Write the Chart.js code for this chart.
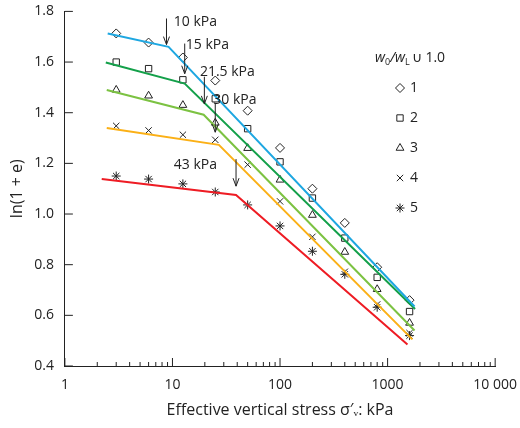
<!DOCTYPE html>
<html><head><meta charset="utf-8">
<script src="https://cdn.jsdelivr.net/npm/chart.js@4/dist/chart.umd.min.js"></script>
<style>body{margin:0;background:#fff}#wrap{width:520px;height:428px}</style>
</head><body><div id="wrap"><canvas id="c"></canvas></div>
<script>
const stress = [3, 6, 12.5, 25, 50, 100, 200, 400, 800, 1600];
const s1 = [1.713, 1.677, 1.618, 1.527, 1.408, 1.261, 1.10, 0.965, 0.79, 0.66];
const s2 = [1.60, 1.574, 1.53, 1.455, 1.337, 1.206, 1.063, 0.905, 0.75, 0.615];
const s3 = [1.49, 1.467, 1.43, 1.36, 1.26, 1.135, 0.996, 0.85, 0.703, 0.57];
const s4 = [1.348, 1.33, 1.313, 1.293, 1.195, 1.05, 0.91, 0.772, 0.643, 0.53];
const s5 = [1.15, 1.138, 1.119, 1.087, 1.036, 0.953, 0.853, 0.762, 0.632, 0.52];
const markers = ['rectRot', 'rect', 'triangle', 'crossRot', 'star'];
const seriesNames = ['1', '2', '3', '4', '5'];

// fitted bilinear lines: [x, y] start, knee, end
const fitBlue = [[2.5, 1.713], [9.2, 1.66], [1780, 0.635]];
const fitGreen = [[2.4, 1.598], [13, 1.515], [1800, 0.625]];
const fitLight = [[2.45, 1.49], [19.5, 1.392], [1780, 0.54]];
const fitOrange = [[2.45, 1.34], [27, 1.273], [1700, 0.505]];
const fitRed = [[2.2, 1.138], [39, 1.075], [1530, 0.485]];
const fitColors = ['#1ea7e1', '#14a04a', '#7cc242', '#fbb016', '#ee1c24'];

// yield stress arrows: x, yTop, yBottom, label, labelX, labelY
const arrows = [
  [8.8, 1.772, 1.669, '10 kPa', 10.3, 1.76],
  [13, 1.673, 1.554, '15 kPa', 13.3, 1.668],
  [19.8, 1.542, 1.435, '21.5 kPa', 18, 1.562],
  [25, 1.435, 1.323, '30 kPa', 24, 1.45],
  [39, 1.217, 1.11, '43 kPa', 10.3, 1.195]
];
const xTicks = [1, 10, 100, 1000, 10000];
const yTicks = [0.4, 0.6, 0.8, 1.0, 1.2, 1.4, 1.6, 1.8];

const datasets = [];
[fitBlue, fitGreen, fitLight, fitOrange, fitRed].forEach((f, i) => {
  datasets.push({ type: 'line', data: f.map(p => ({ x: p[0], y: p[1] })), borderColor: fitColors[i],
    borderWidth: 2, pointRadius: 0, tension: 0 });
});
[s1, s2, s3, s4, s5].forEach((s, i) => {
  datasets.push({ type: 'scatter', data: s.map((v, j) => ({ x: stress[j], y: v })), pointStyle: markers[i],
    pointRadius: 4.5, borderColor: '#222', backgroundColor: 'rgba(0,0,0,0)', borderWidth: 1, showLine: false });
});

const minors = [];
for (let d = 1; d < 10000; d *= 10) for (let k = 1; k < 10; k++) minors.push(d * k);
minors.push(10000);

const extras = {
  id: 'extras',
  afterDraw(chart) {
    const c = chart.ctx, x = chart.scales.x, y = chart.scales.y, a = chart.chartArea;
    c.save();
    c.strokeStyle = '#222'; c.lineWidth = 1;
    minors.forEach(v => {
      const px = x.getPixelForValue(v), len = xTicks.includes(v) ? 8 : 4;
      c.beginPath(); c.moveTo(px, a.bottom); c.lineTo(px, a.bottom - len); c.stroke();
    });
    yTicks.forEach(v => {
      const py = y.getPixelForValue(v);
      c.beginPath(); c.moveTo(a.left, py); c.lineTo(a.left + 8, py); c.stroke();
    });
    c.font = '14px "Open Sans"'; c.fillStyle = '#222'; c.textBaseline = 'middle';
    arrows.forEach(r => {
      const px = x.getPixelForValue(r[0]), t = y.getPixelForValue(r[1]), b = y.getPixelForValue(r[2]);
      c.beginPath(); c.moveTo(px, t); c.lineTo(px, b); c.stroke();
      c.beginPath(); c.moveTo(px - 3, b - 8); c.lineTo(px, b); c.lineTo(px + 3, b - 8); c.stroke();
      c.fillText(r[3], x.getPixelForValue(r[4]), y.getPixelForValue(r[5]));
    });
    // legend
    const lx = 375, ly = 58;
    c.font = 'italic 14px "Open Sans"';
    c.fillText('w', lx, ly); let w = c.measureText('w').width;
    c.font = '9px "Open Sans"'; c.fillText('0', lx + w, ly + 4); w += c.measureText('0').width;
    c.font = 'italic 14px "Open Sans"'; c.fillText('/w', lx + w, ly); w += c.measureText('/w').width;
    c.font = '9px "Open Sans"'; c.fillText('L', lx + w, ly + 4); w += c.measureText('L').width + 2;
    c.font = '14px "Open Sans"'; c.fillText('\u222A 1.0', lx + w, ly);
    seriesNames.forEach((n, i) => {
      const yy = 88 + i * 30;
      c.fillStyle = 'rgba(0,0,0,0)';
      Chart.helpers.drawPoint(c, { pointStyle: markers[i], radius: 4.5, borderWidth: 1 }, 400, yy);
      c.fillStyle = '#222';
      c.fillText(n, 410, yy);
    });
    c.restore();
  }
};

new Chart(document.getElementById('c'), {
  data: { datasets },
  options: {
    responsive: true, maintainAspectRatio: false, animation: false,
    layout: { padding: { top: 10, right: 20, left: 4, bottom: 4 } },
    plugins: { legend: { display: false }, tooltip: { enabled: false } },
    scales: {
      x: {
        type: 'logarithmic', min: 1, max: 10000,
        afterBuildTicks: s => { s.ticks = xTicks.map(v => ({ value: v })); },
        ticks: { color: '#222', font: { size: 14, family: 'Open Sans' }, maxRotation: 0,
          callback: v => v === 10000 ? '10 000' : String(v) },
        grid: { display: false },
        border: { color: '#222' },
        title: { display: true, text: 'Effective vertical stress \u03C3\u2032\u1D65: kPa', color: '#222',
          font: { size: 16, family: 'Open Sans' } }
      },
      y: {
        min: 0.4, max: 1.8,
        afterBuildTicks: s => { s.ticks = yTicks.map(v => ({ value: v })); },
        ticks: { color: '#222', font: { size: 14, family: 'Open Sans' }, callback: v => v.toFixed(1) },
        grid: { display: false },
        border: { color: '#222' },
        title: { display: true, text: 'ln(1 + e)', color: '#222', font: { size: 16, family: 'Open Sans' } }
      }
    }
  },
  plugins: [extras]
});
</script></body></html>
